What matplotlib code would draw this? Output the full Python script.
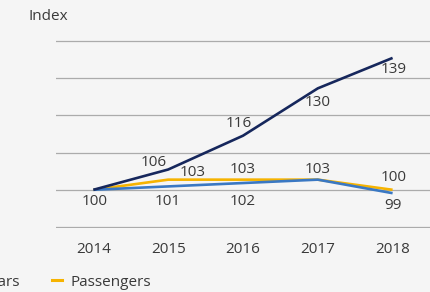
import matplotlib.pyplot as plt
from matplotlib.lines import Line2D

plt.rcParams['font.family'] = ['Open Sans', 'DejaVu Sans']

# data
years = ["2014", "2015", "2016", "2017", "2018"]
navy_vals = [100, 106, 116, 130, 139]
passengers = [100, 103, 103, 103, 100]
cars = [100, 101, 102, 103, 99]

# which labels are shown (None = hidden)
navy_lbl = [None, "106", "116", "130", "139"]
pass_lbl = [None, "103", "103", "103", "100"]
cars_lbl = ["100", "101", "102", None, "99"]

# label offsets in pixels
navy_off = [(0, 0), (-14, 7), (-4, 12), (0, -14), (1, -12)]
pass_off = [(0, 0), (24, 7), (0, 10), (0, 10), (1, 12)]
cars_off = [(1, -12), (0, -15), (0, -18), (0, 0), (0, -12)]

c_navy = "#16275c"
c_blue = "#3a78c3"
c_yel = "#f6b300"
txt = "#3a3a3a"
bg = "#f5f5f5"
fs = 11

fig = plt.figure(figsize=(4.3, 2.92), dpi=100, facecolor=bg)
ax = fig.add_axes([56 / 430, (292 - 228) / 292, 1 - 56 / 430, 188 / 292])
ax.set_facecolor(bg)

x = range(len(years))
ax.plot(x, passengers, color=c_yel, lw=1.9, zorder=3, solid_capstyle="butt")
ax.plot(x, cars, color=c_blue, lw=1.9, zorder=4, solid_capstyle="butt")
ax.plot(x, navy_vals, color=c_navy, lw=1.9, zorder=5, solid_capstyle="butt")

for vals, lbls, offs in [(navy_vals, navy_lbl, navy_off),
                         (passengers, pass_lbl, pass_off),
                         (cars, cars_lbl, cars_off)]:
    for i, (v, l, o) in enumerate(zip(vals, lbls, offs)):
        if l is None:
            continue
        ax.annotate(l, (i, v), xytext=o, textcoords="offset pixels",
                    ha="center", va="center", fontsize=fs, color=txt, zorder=6)

ax.set_xlim(-0.5, 4.5)
ax.set_ylim(88.7, 144.3)
ax.set_yticks([89, 100, 111, 122, 133, 144])
ax.set_yticklabels([])
ax.grid(axis="y", color="#ababab", lw=0.9)
ax.set_axisbelow(True)
ax.set_xticks(list(x))
ax.set_xticklabels(years, fontsize=fs, color=txt)
ax.tick_params(length=0, pad=10)
for s in ax.spines.values():
    s.set_visible(False)

fig.text(28 / 430, 1 - 16 / 292, "Index", fontsize=fs, color=txt,
         ha="left", va="center")

handles = [Line2D([], [], color=c_blue, lw=2.2), Line2D([], [], color=c_yel, lw=2.2)]
fig.legend(handles, ["Cars", "Passengers"], ncol=2, frameon=False,
           loc="center left", bbox_to_anchor=(-30 / 430, 1 - 282 / 292),
           fontsize=fs, labelcolor=txt, handlelength=0.65, handletextpad=0.55,
           columnspacing=2.1, borderpad=0, borderaxespad=0)

fig.savefig("out.png", dpi=100, facecolor=bg)
